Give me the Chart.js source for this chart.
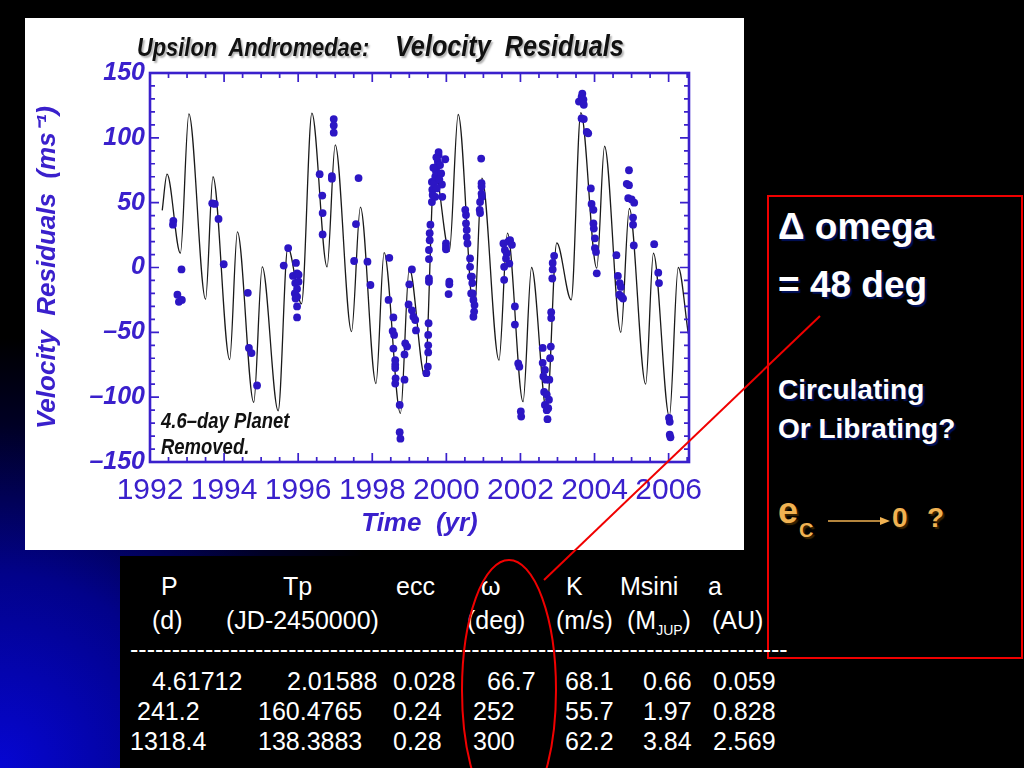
<!DOCTYPE html>
<html>
<head>
<meta charset="utf-8">
<script src="https://cdn.jsdelivr.net/npm/chart.js@4.4.1/dist/chart.umd.min.js"></script>
<style>
  html, body { margin: 0; padding: 0; }
  body {
    width: 1024px; height: 768px; overflow: hidden; position: relative;
    background: radial-gradient(ellipse 420px 430px at 0px 768px, #0606d2 0%, #02028a 45%, #000024 80%, #000 100%), #000;
    font-family: "Liberation Sans", Arial, sans-serif;
  }
  .abs { position: absolute; white-space: pre; line-height: 1.2; }
  #tableBg { position: absolute; left: 120px; top: 556px; width: 904px; height: 212px; background: #000; }
  #panel { position: absolute; left: 25px; top: 18px; width: 719px; height: 532px; background: #fff; }
  #chartBox { position: absolute; left: 25px; top: 18px; width: 719px; height: 532px; }
  .ttl { color: #111; font-weight: bold; font-style: italic; text-shadow: 2px 2px 2px #b0b0b0; transform: scaleX(0.84); transform-origin: 0 0; }
  .note { color: #111; font-weight: bold; font-style: italic; font-size: 22px; transform: scaleX(0.84); transform-origin: 0 0; }
  .tbl { color: #fff; font-size: 25px; }
  .box { color: #fff; font-weight: bold; text-shadow: 2px 2px 1px #00105a; }
  .org { color: #f0b252; font-weight: bold; text-shadow: 2px 2px 1px #3a2400; }
  #redBox { position: absolute; left: 767px; top: 195px; width: 252px; height: 460px; border: 2px solid #f00000; }
  svg { position: absolute; left: 0; top: 0; }
</style>
</head>
<body>
<div id="tableBg"></div>
<div id="panel"></div>
<div id="chartBox"><canvas id="rvChart" width="719" height="532"></canvas></div>

<div class="abs ttl" style="left:137px;top:32px;font-size:26px;">Upsilon  Andromedae:</div>
<div class="abs ttl" style="left:395px;top:28px;font-size:30px;">Velocity  Residuals</div>
<div class="abs note" style="left:161px;top:408px;">4.6–day Planet</div>
<div class="abs note" style="left:161px;top:434px;">Removed.</div>

<div id="redBox"></div>
<div class="abs box" style="left:778px;top:205px;font-size:37px;">Δ omega</div>
<div class="abs box" style="left:778px;top:263px;font-size:37px;">= 48 deg</div>
<div class="abs box" style="left:778px;top:373px;font-size:28px;">Circulating</div>
<div class="abs box" style="left:778px;top:412px;font-size:28px;">Or Librating?</div>
<div class="abs org" style="left:778px;top:489px;font-size:36px;">e</div>
<div class="abs org" style="left:799px;top:518px;font-size:20px;">C</div>
<div class="abs org" style="left:892px;top:501px;font-size:28px;">0</div>
<div class="abs org" style="left:927px;top:501px;font-size:28px;">?</div>

<div class="abs tbl" style="left:161px;top:571px;">P</div>
<div class="abs tbl" style="left:283px;top:571px;">Tp</div>
<div class="abs tbl" style="left:396px;top:571px;">ecc</div>
<div class="abs tbl" style="left:481px;top:571px;">ω</div>
<div class="abs tbl" style="left:566px;top:571px;">K</div>
<div class="abs tbl" style="left:620px;top:571px;">Msini</div>
<div class="abs tbl" style="left:708px;top:571px;">a</div>

<div class="abs tbl" style="left:152px;top:605px;">(d)</div>
<div class="abs tbl" style="left:226px;top:605px;">(JD-2450000)</div>
<div class="abs tbl" style="left:467px;top:605px;">(deg)</div>
<div class="abs tbl" style="left:556px;top:605px;">(m/s)</div>
<div class="abs tbl" style="left:627px;top:605px;">(M<span style="font-size:14px;position:relative;top:6px;">JUP</span>)</div>
<div class="abs tbl" style="left:712px;top:605px;">(AU)</div>

<div class="abs tbl" style="left:130px;top:634px;">-------------------------------------------------------------------------------</div>

<div class="abs tbl" style="left:152px;top:666px;">4.61712</div>
<div class="abs tbl" style="left:287px;top:666px;">2.01588</div>
<div class="abs tbl" style="left:393px;top:666px;">0.028</div>
<div class="abs tbl" style="left:487px;top:666px;">66.7</div>
<div class="abs tbl" style="left:565px;top:666px;">68.1</div>
<div class="abs tbl" style="left:643px;top:666px;">0.66</div>
<div class="abs tbl" style="left:713px;top:666px;">0.059</div>

<div class="abs tbl" style="left:137px;top:696px;">241.2</div>
<div class="abs tbl" style="left:258px;top:696px;">160.4765</div>
<div class="abs tbl" style="left:393px;top:696px;">0.24</div>
<div class="abs tbl" style="left:473px;top:696px;">252</div>
<div class="abs tbl" style="left:565px;top:696px;">55.7</div>
<div class="abs tbl" style="left:643px;top:696px;">1.97</div>
<div class="abs tbl" style="left:713px;top:696px;">0.828</div>

<div class="abs tbl" style="left:130px;top:726px;">1318.4</div>
<div class="abs tbl" style="left:258px;top:726px;">138.3883</div>
<div class="abs tbl" style="left:393px;top:726px;">0.28</div>
<div class="abs tbl" style="left:473px;top:726px;">300</div>
<div class="abs tbl" style="left:565px;top:726px;">62.2</div>
<div class="abs tbl" style="left:643px;top:726px;">3.84</div>
<div class="abs tbl" style="left:713px;top:726px;">2.569</div>

<svg width="1024" height="768">
  <line x1="820" y1="316" x2="544" y2="580" stroke="#f00000" stroke-width="2"/>
  <ellipse cx="509" cy="690" rx="47" ry="130" fill="none" stroke="#f00000" stroke-width="2"/>
  <line x1="828" y1="521" x2="882" y2="521" stroke="#f0b252" stroke-width="1.6"/>
  <polygon points="890,521 880,517 880,525" fill="#f0b252"/>
</svg>

<script>
// axis ticks
const yearTicks = [1992, 1994, 1996, 1998, 2000, 2002, 2004, 2006];
const velocityTicks = [-150, -100, -50, 0, 50, 100, 150];

// model curve (two outer planets), turning points
const fitYears = [1992.33, 1992.46, 1992.82, 1993.05, 1993.50, 1993.70, 1994.15, 1994.36, 1994.80, 1995.03,
  1995.46, 1995.72, 1996.09, 1996.37, 1996.78, 1997.00, 1997.44, 1997.68, 1998.10, 1998.32,
  1998.76, 1999.00, 1999.42, 1999.68, 2000.08, 2000.32, 2000.75, 2000.96, 2001.42, 2001.65,
  2002.07, 2002.30, 2002.71, 2002.98, 2003.37, 2003.63, 2004.06, 2004.27, 2004.71, 2004.94,
  2005.38, 2005.59, 2006.02, 2006.26, 2006.53];
const fitVelocities = [44, 72, 11, 118.5, -24.5, 70, -71, 27.5, -104, 0.5,
  -110.5, 15.5, -28, 119, 0.5, 94.5, -49.5, 46.5, -89.5, 11.5,
  -112.5, -0.5, -84, 76, 12.5, 118, -36.5, 69, -71.5, 26.5,
  -103.5, 0, -111, 19, -25, 119.5, -0.5, 93.5, -50, 45.5,
  -90, 11, -115, 0, -51];

// observed residuals
const obsYears = [
  1992.63, 1992.62, 1992.74, 1992.78, 1992.86, 1992.85,
  1993.68, 1993.75, 1993.85, 1993.99,
  1994.64, 1994.67, 1994.74, 1994.89,
  1995.61, 1995.73, 1995.94, 1995.86, 1995.97, 1996.01, 1996.01, 1995.92, 1995.97, 1995.91, 1995.97, 1995.93, 1995.97, 1995.97,
  1996.58, 1996.65, 1996.66, 1996.66, 1996.91, 1996.91, 1996.96, 1996.96, 1996.96,
  1997.63, 1997.56, 1997.51, 1997.87, 1997.95,
  1998.46, 1998.44, 1998.57, 1998.55, 1998.59, 1998.57, 1998.62, 1998.62, 1998.62, 1998.63, 1998.62, 1998.74, 1998.74, 1998.76,
  1998.87, 1998.87, 1998.94, 1998.89, 1999.00, 1999.07, 1998.98, 1999.07, 1999.11, 1999.16, 1999.18,
  1999.46, 1999.50, 1999.51, 1999.51, 1999.51, 1999.52, 1999.53, 1999.53, 1999.53, 1999.53, 1999.55, 1999.55, 1999.57,
  1999.61, 1999.62, 1999.61, 1999.67, 1999.70, 1999.72, 1999.74, 1999.77, 1999.79, 1999.73, 1999.79, 1999.83, 1999.86,
  1999.88, 1999.89, 1999.70, 1999.74, 1999.63, 1999.81, 1999.65, 1999.97, 1999.99, 1999.99, 1999.99, 2000.08, 2000.06, 2000.08,
  2000.51, 2000.53, 2000.53, 2000.55, 2000.55, 2000.57, 2000.64, 2000.64, 2000.66, 2000.70, 2000.71, 2000.73, 2000.76,
  2000.75, 2000.73, 2000.69, 2000.67,
  2000.94, 2000.95, 2000.95, 2000.95, 2000.96, 2000.91, 2000.90, 2000.91,
  2001.54, 2001.58, 2001.63, 2001.67, 2001.72, 2001.61, 2001.70, 2001.56, 2001.56, 2001.77,
  2001.85, 2001.85, 2001.94, 2001.97, 2002.01, 2002.02,
  2002.60, 2002.60, 2002.66, 2002.62, 2002.69, 2002.64, 2002.71, 2002.66, 2002.71, 2002.75, 2002.73,
  2002.78, 2002.77, 2002.80, 2002.82, 2002.83, 2002.83, 2002.86, 2002.87, 2002.87, 2002.91,
  2003.58, 2003.65, 2003.67, 2003.70, 2003.71, 2003.65, 2003.71, 2003.79, 2003.83,
  2003.90, 2003.92, 2003.97, 2003.97, 2003.98, 2004.01, 2004.01, 2004.04, 2004.06,
  2004.59, 2004.63, 2004.68, 2004.71, 2004.67, 2004.73, 2004.77,
  2004.93, 2004.87, 2004.93, 2004.91, 2005.00, 2005.07, 2005.04, 2005.04, 2005.06,
  2005.61, 2005.72, 2005.74,
  2006.01, 2006.03, 2006.03, 2006.05
];
const obsVelocities = [
  36, 33, -21, -26.5, -25, -1.5,
  49.5, 49, 37.5, 2.5,
  -19.5, -62, -66, -91,
  1.5, 15, 3.5, -6.5, -4.5, -5.5, -11, -12, -16.5, -20, -22.5, -24, -30, -38.5,
  72, 55.5, 42, 25.5, 70.5, 68.5, 114.5, 109.5, 104,
  69, 33.5, 5, 4.5, -13.5,
  7.5, -25, -38.5, -49, -52, -62.5, -71.5, -75, -77.5, -85.5, -89.5, -106, -127, -132,
  -86.5, -67, -61, -58.5, -13, -1.5, -28.5, -33, -38, -40.5, -48.5,
  -81.5, -76.5, -65.5, -60, -52, -43, -11, -8.5, 6.5, 13.5, 21, 26.5, 33,
  50.5, 60, 66, 65, 70, 74, 77.5, 81.5, 86.5, 85, 89, 79, 72.5,
  64, 54.5, 54.5, 61, 56, 68, 77, 83.5, 18.5, 16, 14, -11, -20.5, -13,
  44.5, 40.5, 34, 29, 23.5, 18.5, 7, 0.5, -7, -12, -20, -25, -29,
  -34, -38, -7, -20,
  84, 65, 62.5, 57, 54.5, 50.5, 44.5, 42,
  18.5, 13.5, 11, 20, 21, 7, 3, 0.5, -9.5, 17.5,
  -30, -44, -74, -76.5, -111, -115,
  -62, -73.5, -79, -84, -86.5, -96, -98, -106, -110, -108.5, -117,
  -86.5, -102, -70, -61, -39, -34.5, -8.5, -1.5, 3.5, 9,
  128, 131.5, 134, 129.5, 125.5, 115, 114.5, 104.5, 103.5,
  61, 49, 44.5, 34, 30, 22.5, 15, 12, -4.5,
  9.5, -6.5, -12, -15, -21, -22.5, -24,
  75, 64.5, 63.5, 53.5, 52.5, 50, 38.5, 33, 17,
  18, -4, -12,
  -116, -119, -129, -131
];

const axisBlue = '#3a20cc';

// IDL-style box with inward ticks on all four sides
const frameTicks = {
  id: 'frameTicks',
  afterDatasetsDraw(chart) {
    const { ctx, chartArea: a, scales: { x, y } } = chart;
    ctx.save();
    ctx.strokeStyle = axisBlue;
    ctx.lineWidth = 2.6;
    ctx.strokeRect(a.left, a.top, a.right - a.left, a.bottom - a.top);
    ctx.lineWidth = 1.7;
    ctx.beginPath();
    for (let v = 1992; v <= 2006.5; v += 0.5) {
      const px = x.getPixelForValue(v);
      const len = v % 2 === 0 ? 9 : 5;
      ctx.moveTo(px, a.bottom); ctx.lineTo(px, a.bottom - len);
      ctx.moveTo(px, a.top); ctx.lineTo(px, a.top + len);
    }
    for (let v = -150; v <= 150; v += 10) {
      const py = y.getPixelForValue(v);
      const len = v % 50 === 0 ? 9 : 5;
      ctx.moveTo(a.left, py); ctx.lineTo(a.left + len, py);
      ctx.moveTo(a.right, py); ctx.lineTo(a.right - len, py);
    }
    ctx.stroke();
    ctx.restore();
  }
};

const ctx = document.getElementById('rvChart').getContext('2d');
new Chart(ctx, {
  type: 'scatter',
  data: {
    datasets: [
      {
        type: 'line',
        data: fitYears.map((t, i) => ({ x: t, y: fitVelocities[i] })),
        borderColor: '#1a1a1a',
        borderWidth: 1.3,
        pointRadius: 0,
        cubicInterpolationMode: 'monotone',
        fill: false,
        order: 2
      },
      {
        data: obsYears.map((t, i) => ({ x: t, y: obsVelocities[i] })),
        backgroundColor: '#2c16c4',
        borderColor: '#2c16c4',
        borderWidth: 0,
        pointRadius: 3.9,
        order: 1
      }
    ]
  },
  options: {
    responsive: false,
    animation: false,
    layout: { padding: { top: 55, right: 55, left: 0, bottom: 0 } },
    plugins: { legend: { display: false }, tooltip: { enabled: false } },
    scales: {
      x: {
        type: 'linear',
        min: 1992,
        max: 2006.55,
        grid: { display: false, drawTicks: false },
        border: { display: false },
        afterBuildTicks: s => { s.ticks = yearTicks.map(v => ({ value: v })); },
        afterFit: s => { s.height = 88; },
        ticks: {
          autoSkip: false, maxRotation: 0, padding: 11,
          color: axisBlue,
          font: { family: 'Liberation Sans', size: 30 },
          callback: v => String(v)
        },
        title: {
          display: true, text: 'Time  (yr)', color: axisBlue,
          font: { family: 'Liberation Sans', size: 26, weight: 'bold', style: 'italic' },
          padding: { top: 0, bottom: 11 }
        }
      },
      y: {
        min: -150,
        max: 150,
        grid: { display: false, drawTicks: false },
        border: { display: false },
        afterBuildTicks: s => { s.ticks = velocityTicks.map(v => ({ value: v })); },
        afterFit: s => { s.width = 125; },
        ticks: {
          padding: 5,
          color: axisBlue,
          font: { family: 'Liberation Sans', size: 25, weight: 'bold', style: 'italic' },
          callback: v => (v < 0 ? '\u2013' + Math.abs(v) : String(v))
        },
        title: {
          display: true, text: 'Velocity  Residuals  (ms\u207B\u00B9)', color: axisBlue,
          font: { family: 'Liberation Sans', size: 26, weight: 'bold', style: 'italic' },
          padding: { top: 7, bottom: 0 }
        }
      }
    }
  },
  plugins: [frameTicks]
});
</script>
</body>
</html>
